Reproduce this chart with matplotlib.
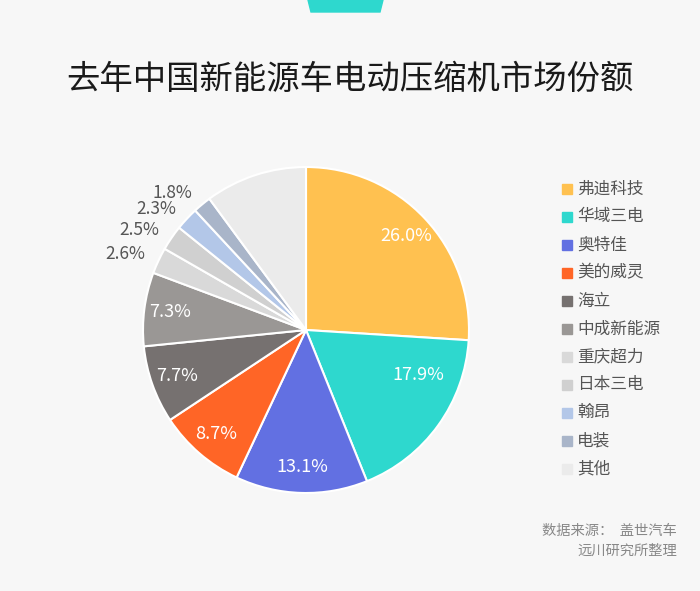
import numpy as np
import matplotlib.pyplot as plt
from matplotlib.patches import Polygon

plt.rcParams['font.family'] = ['Noto Sans CJK SC', 'DejaVu Sans']

labels = ['弗迪科技', '华域三电', '奥特佳', '美的威灵', '海立', '中成新能源',
          '重庆超力', '日本三电', '翰昂', '电装', '其他']
shares = [26.0, 17.9, 13.1, 8.7, 7.7, 7.3, 2.6, 2.5, 2.3, 1.8, 10.1]
colors = ['#FFC150', '#2ED8CE', '#6270E2', '#FF6526', '#767170', '#9A9795',
          '#D9D9D9', '#D0D0D0', '#B3C7E8', '#A9B5C9', '#EBEBEB']

W, H = 700, 591
bg = '#F7F7F7'
fig = plt.figure(figsize=(7, 5.91), dpi=100, facecolor=bg)

# teal tab at top
deco = fig.add_axes([0, 0, 1, 1])
deco.set_xlim(0, W)
deco.set_ylim(H, 0)
deco.axis('off')
deco.add_patch(Polygon([[308, 0], [383, 0], [380, 12], [311, 12]],
                       closed=True, color='#2ED8CE'))

fig.text(0.5, 1 - 79 / H, '去年中国新能源车电动压缩机市场份额',
         ha='center', va='center', fontsize=24, color='#1a1a1a')

cx, cy, r = 306, 330, 163
ax = fig.add_axes([(cx - r) / W, (H - cy - r) / H, 2 * r / W, 2 * r / H])
ax.set_facecolor(bg)
wedges, _ = ax.pie(shares, colors=colors, startangle=90, counterclock=False,
                   radius=1, wedgeprops=dict(edgecolor='white', linewidth=1.5))
ax.set_xlim(-1, 1)
ax.set_ylim(-1, 1)
ax.set_aspect('equal')
ax.axis('off')

for w, v in zip(wedges, shares):
    if v == 10.1:
        continue
    mid = (w.theta1 + w.theta2) / 2
    txt = '%.1f%%' % v
    if v > 5:
        d = 0.84
        if v == 17.9:
            d, mid = 0.74, mid + 14
        ang = np.deg2rad(mid)
        ax.text(d * np.cos(ang), d * np.sin(ang), txt, ha='center', va='center',
                color='white', fontsize=13)
    else:
        d = 1.09
        ang = np.deg2rad(mid)
        ax.text(d * np.cos(ang), d * np.sin(ang), txt, ha='right', va='center',
                color='#555555', fontsize=12.5, clip_on=False)

# legend
for i, (lab, c) in enumerate(zip(labels, colors)):
    y = 189 + i * 28
    deco.add_patch(plt.Rectangle((562, y - 5), 10, 10, color=c))
    deco.text(577, y, lab, ha='left', va='center', fontsize=12, color='#555555')

deco.text(677, 531, '数据来源：  盖世汽车', ha='right', va='center',
          fontsize=10.3, color='#888888')
deco.text(677, 551, '远川研究所整理', ha='right', va='center',
          fontsize=10.3, color='#888888')

fig.savefig('out.png', dpi=100, facecolor=bg)
